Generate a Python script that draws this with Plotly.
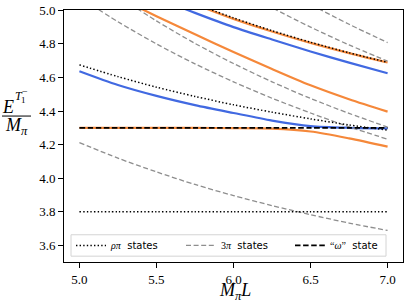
import plotly.graph_objects as go

# ---------------- data ----------------
L = [5.0, 5.25, 5.5, 5.75, 6.0, 6.25, 6.5, 6.75, 7.0]

# rho-pi non-interacting levels (dotted)
rhopi_0 = [3.80, 3.80, 3.80, 3.80, 3.80, 3.80, 3.80, 3.80, 3.80]
rhopi_1 = [4.675, 4.605, 4.542, 4.487, 4.437, 4.393, 4.353, 4.317, 4.286]
rhopi_2 = [None, None, None, 5.039, 4.955, 4.879, 4.810, 4.747, 4.690]

# 3pi non-interacting levels (dashed grey)
pi3_1 = [4.212, 4.119, 4.037, 3.962, 3.896, 3.836, 3.782, 3.732, 3.688]
pi3_2 = [5.078, 4.932, 4.800, 4.681, 4.574, 4.476, 4.388, 4.306, 4.232]
pi3_3 = [None, 5.085, 4.937, 4.803, 4.683, 4.574, 4.475, 4.386, 4.304]
pi3_4 = [None, None, None, None, 5.142, 5.016, 4.900, 4.794, 4.697]
pi3_5 = [None, None, None, None, None, 5.164, 5.035, 4.917, 4.808]

# "omega" state (dashed black)
omega = [4.300, 4.300, 4.300, 4.300, 4.300, 4.300, 4.300, 4.300, 4.300]

# interacting spectrum, blue
blue_1 = [4.637, 4.555, 4.490, 4.435, 4.388, 4.343, 4.310, 4.300, 4.297]
blue_2 = [None, None, 5.075, 4.985, 4.900, 4.826, 4.755, 4.688, 4.625]

# interacting spectrum, orange
orange_1 = [4.299, 4.299, 4.299, 4.299, 4.298, 4.295, 4.278, 4.237, 4.188]
orange_2 = [None, 5.077, 4.965, 4.857, 4.752, 4.650, 4.553, 4.470, 4.396]
orange_3 = [None, None, None, 5.036, 4.949, 4.874, 4.806, 4.745, 4.689]

x_ticks = [5.0, 5.5, 6.0, 6.5, 7.0]
y_ticks = [3.6, 3.8, 4.0, 4.2, 4.4, 4.6, 4.8, 5.0]

# ---------------- styling ----------------
W, H = 407, 304
ML, MR, MT, MB = 64, 4, 3, 42
PW, PH = W - ML - MR, H - MT - MB

BLUE = "#4169e1"
ORANGE = "#f5883a"
GREY = "#8e8e8e"
SERIF = "Liberation Serif"


def px2paper(px, py):
    return (px - ML) / PW, (H - MB - py) / PH


fig = go.Figure()


def add(y, color, width, dash="solid", name=None, show=False, legend="legend"):
    fig.add_trace(go.Scatter(
        x=L, y=y, mode="lines",
        line=dict(color=color, width=width, dash=dash, shape="spline", smoothing=0.8),
        name=name, showlegend=show, legend=legend, hoverinfo="skip",
        connectgaps=False))


# solid coloured spectrum
for s in (blue_1, blue_2):
    add(s, BLUE, 2.2)
for s in (orange_1, orange_2, orange_3):
    add(s, ORANGE, 2.2)

SER = "<span style=\"font-family:'Liberation Serif'\">"

# free levels
DASH3 = "5px,2.6px"
for i, s in enumerate((pi3_1, pi3_2, pi3_3, pi3_4, pi3_5)):
    add(s, GREY, 1.3, DASH3, name=SER + "3<i>π</i></span>  states" if i == 0 else None,
        show=(i == 0), legend="legend2")

DOT = "1.4px,2.2px"
for i, s in enumerate((rhopi_0, rhopi_1, rhopi_2)):
    add(s, "black", 1.5, DOT, name=SER + "<i>ρπ</i></span>  states" if i == 0 else None,
        show=(i == 0), legend="legend")

add(omega, "black", 1.8, "5.5px,2.6px", name=SER + "“<i>ω</i>”</span>  state",
    show=True, legend="legend3")

axis_common = dict(
    showline=True, linecolor="black", linewidth=1, mirror=True,
    ticks="outside", ticklen=5, tickwidth=1, tickcolor="black",
    showgrid=False, zeroline=False, ticklabeloverflow="allow",
    tickfont=dict(family=SERIF, size=13, color="black"),
)

fig.update_xaxes(range=[4.9, 7.1], tickvals=x_ticks, ticktext=[f"{v:.1f}" for v in x_ticks], **axis_common)
fig.update_yaxes(range=[3.5, 5.002], tickvals=y_ticks, ticktext=[f"{v:.1f}" for v in y_ticks], **axis_common)


def leg(px):
    x, y = px2paper(px, 245)
    return dict(orientation="h", x=x, y=y, xanchor="left", yanchor="middle",
                bgcolor="rgba(0,0,0,0)", borderwidth=0,
                font=dict(family="DejaVu Sans", size=10, color="black"),
                itemwidth=30, itemclick=False, itemdoubleclick=False)


fig.update_layout(
    width=W, height=H,
    margin=dict(l=ML, r=MR, t=MT, b=MB),
    paper_bgcolor="white", plot_bgcolor="white",
    showlegend=True,
    legend=leg(71), legend2=leg(181), legend3=leg(290),
)

# legend frame
bx0, by0 = px2paper(71, 256)
bx1, by1 = px2paper(386, 234)
fig.add_shape(type="rect", xref="paper", yref="paper", x0=bx0, x1=bx1, y0=by0, y1=by1,
              line=dict(color="#d4d4d4", width=1), fillcolor="rgba(255,255,255,0.85)", layer="above")

# axis labels as annotations
annots = []


def txt(s, px, py, size, xanchor="center", yanchor="middle"):
    x, y = px2paper(px, py)
    annots.append(dict(text=s, x=x, y=y, xref="paper", yref="paper", showarrow=False,
                       xanchor=xanchor, yanchor=yanchor,
                       font=dict(family=SERIF, size=size, color="black")))


txt("<i>M</i><sub><i>π</i></sub><i>L</i>", 235, 292, 18)
txt("<i>E</i>", 8, 102.5, 18)
txt("<i>T</i>", 18.5, 91, 12)
txt("1", 23, 95, 9)
txt("−", 25, 86.5, 10)
txt("<i>M</i><sub><i>π</i></sub>", 16, 122.5, 18)
fig.update_layout(annotations=annots)

x0, y0 = px2paper(2, 112)
x1, _ = px2paper(31, 112)
fig.add_shape(type="line", xref="paper", yref="paper", x0=x0, x1=x1, y0=y0, y1=y0,
              line=dict(color="black", width=1))

fig.write_html("out.html", config={"displayModeBar": False},
               post_script="document.body.style.margin='0';")
